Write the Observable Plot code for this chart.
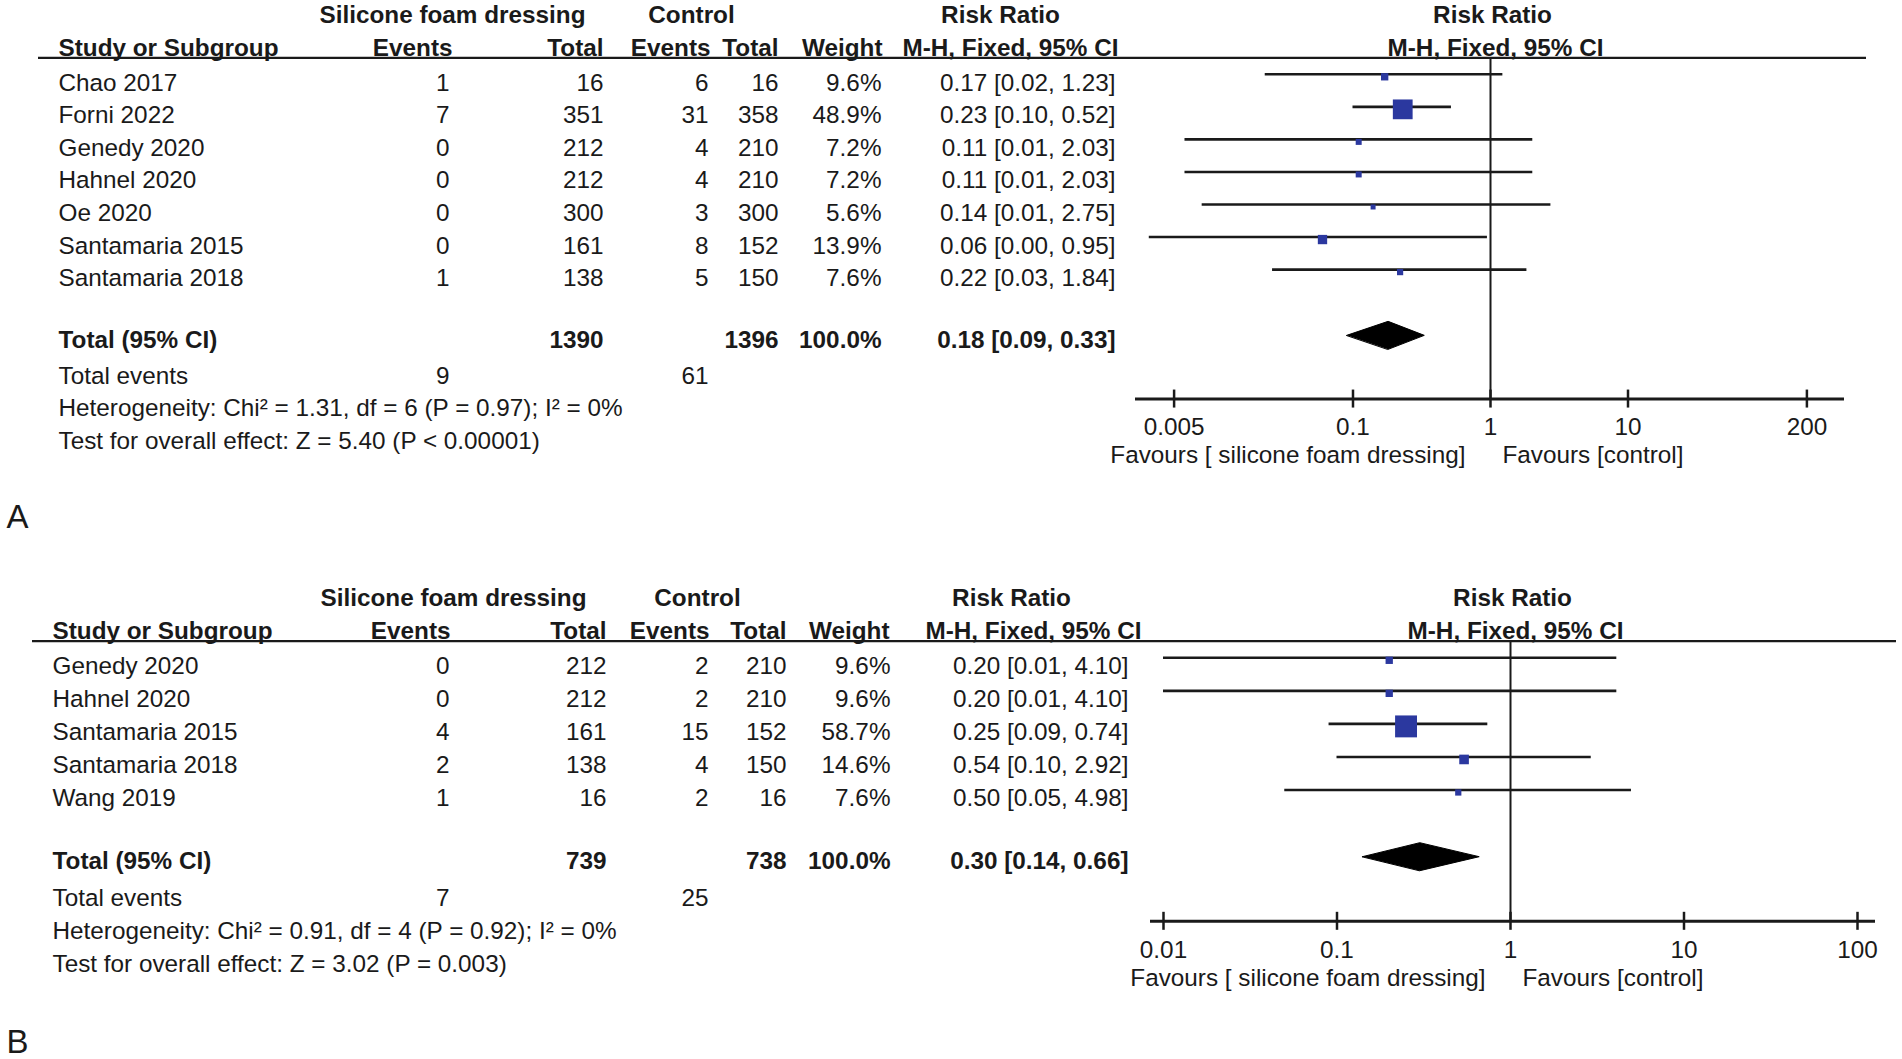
<!DOCTYPE html>
<html><head><meta charset="utf-8">
<script src="https://cdn.jsdelivr.net/npm/d3@7"></script>
<script src="https://cdn.jsdelivr.net/npm/@observablehq/plot@0.6"></script>
<style>
html,body{margin:0;padding:0;background:#fff;overflow:hidden;}
.panel{display:flex;flex-direction:row;width:1902px;}
.panel svg{display:block;flex:none;max-width:none !important;}
</style></head><body><div id="root"></div>
<script>
// ---------- Panel A data ----------
const studiesA   = ["Chao 2017","Forni 2022","Genedy 2020","Hahnel 2020","Oe 2020","Santamaria 2015","Santamaria 2018"];
const silEventsA = [1, 7, 0, 0, 0, 0, 1];
const silTotalA  = [16, 351, 212, 212, 300, 161, 138];
const ctlEventsA = [6, 31, 4, 4, 3, 8, 5];
const ctlTotalA  = [16, 358, 210, 210, 300, 152, 150];
const weightA    = [9.6, 48.9, 7.2, 7.2, 5.6, 13.9, 7.6];
const rrA        = [0.17, 0.23, 0.11, 0.11, 0.14, 0.06, 0.22];
const ciLowA     = [0.023, 0.10, 0.006, 0.006, 0.008, 0.0033, 0.026];
const ciHighA    = [1.23, 0.52, 2.03, 2.03, 2.75, 0.95, 1.84];
const totalsA    = [1390, 1396, 100.0];   // silicone total, control total, weight
const eventsA    = [9, 61];               // total events
const pooledA    = [0.18, 0.09, 0.33];    // RR, low, high
const hetA       = "Heterogeneity: Chi\u00b2 = 1.31, df = 6 (P = 0.97); I\u00b2 = 0%";
const testA      = "Test for overall effect: Z = 5.40 (P < 0.00001)";
const ticksA     = [0.005, 0.1, 1, 10, 200];

// ---------- Panel B data ----------
const studiesB   = ["Genedy 2020","Hahnel 2020","Santamaria 2015","Santamaria 2018","Wang 2019"];
const silEventsB = [0, 0, 4, 2, 1];
const silTotalB  = [212, 212, 161, 138, 16];
const ctlEventsB = [2, 2, 15, 4, 2];
const ctlTotalB  = [210, 210, 152, 150, 16];
const weightB    = [9.6, 9.6, 58.7, 14.6, 7.6];
const rrB        = [0.20, 0.20, 0.25, 0.54, 0.50];
const ciLowB     = [0.01, 0.01, 0.09, 0.10, 0.05];
const ciHighB    = [4.10, 4.10, 0.74, 2.92, 4.98];
const totalsB    = [739, 738, 100.0];
const eventsB    = [7, 25];
const pooledB    = [0.30, 0.14, 0.66];
const hetB       = "Heterogeneity: Chi\u00b2 = 0.91, df = 4 (P = 0.92); I\u00b2 = 0%";
const testB      = "Test for overall effect: Z = 3.02 (P = 0.003)";
const ticksB     = [0.01, 0.1, 1, 10, 100];

// ---------- layout (styles / positions, not data) ----------
const FONT = "Liberation Sans, Arial, Helvetica, sans-serif";
const INK = "#1a1a1a";
const BLUE = "#2b389f";
const FS = 24.3;
const TABLE_W = 1130, FOREST_W = 772;

const layoutA = {
  label: "A", height: 540, top: 82.5, unit: 32.55,
  cols: {name: 58, sEv: 449, sTot: 603, cEv: 708, cTot: 778, w: 881, ci: 1115},
  head1: {sil: 452, ctl: 691, rr: 1000},
  head2: {sEv: 452, sTot: 603, cEv: 710, cTot: 778, w: 882, ci: 1118},
  lineLeft: 38, lineRightInset: 36,
  xDomain: [0.005, 200], xRange: [43.6, 676.4],
  axisInsetLeft: 5, axisInsetRight: 58
};
const layoutB = {
  label: "B", height: 519, top: 126, unit: 33.05,
  cols: {name: 52, sEv: 449, sTot: 606, cEv: 708, cTot: 786, w: 890, ci: 1128},
  head1: {sil: 453, ctl: 697, rr: 1011},
  head2: {sEv: 450, sTot: 606, cEv: 709, cTot: 786, w: 889, ci: 1141},
  lineLeft: 32, lineRightInset: 6,
  xDomain: [0.01, 100], xRange: [33, 727],
  axisInsetLeft: 20, axisInsetRight: 27
};

const f2 = v => v.toFixed(2);
const ciText = (r, l, h) => `${f2(r)} [${f2(l)}, ${f2(h)}]`;
const side = w => 3.2 * Math.sqrt(w) - 2.6;

function panel(d, L) {
  const n = d.names.length;
  const rows = d.names.map((name, i) => ({
    i, name, sEv: d.sEv[i], sTot: d.sTot[i], cEv: d.cEv[i], cTot: d.cTot[i],
    w: d.w[i], rr: d.rr[i], lo: d.lo[i], hi: d.hi[i]
  }));
  const R = {
    h1: -2.07, h2: -1.06, line: -0.77,
    total: n + 0.9, events: n + 2, het: n + 3, test: n + 4,
    axis: n + 2.71, ticks: n + 3.57, fav: n + 4.43, label: n + 6.36
  };
  const y = {domain: [-L.top / L.unit, (L.height - L.top) / L.unit], range: [0, L.height], axis: null};
  const C = L.cols;
  const T = (data, opts) => Plot.text(data, {fill: INK, fontSize: FS, ...opts});

  const table = Plot.plot({
    width: TABLE_W, height: L.height, margin: 0,
    style: {fontFamily: FONT, background: "transparent", overflow: "visible"},
    x: {domain: [0, TABLE_W], range: [0, TABLE_W], axis: null},
    y,
    marks: [
      // header row 1
      T(["Silicone foam dressing"], {x: () => L.head1.sil, y: () => R.h1, text: t => t, fontWeight: "bold"}),
      T(["Control"], {x: () => L.head1.ctl, y: () => R.h1, text: t => t, fontWeight: "bold"}),
      T(["Risk Ratio"], {x: () => L.head1.rr, y: () => R.h1, text: t => t, fontWeight: "bold"}),
      // header row 2
      T(["Study or Subgroup"], {x: () => C.name, y: () => R.h2, text: t => t, fontWeight: "bold", textAnchor: "start"}),
      T([["Events", L.head2.sEv], ["Total", L.head2.sTot], ["Events", L.head2.cEv], ["Total", L.head2.cTot], ["Weight", L.head2.w], ["M-H, Fixed, 95% CI", L.head2.ci]],
        {x: t => t[1], y: () => R.h2, text: t => t[0], fontWeight: "bold", textAnchor: "end"}),
      Plot.ruleY([R.line], {stroke: INK, strokeWidth: 2.2, insetLeft: L.lineLeft}),
      // study rows
      T(rows, {x: () => C.name, y: "i", text: "name", textAnchor: "start"}),
      T(rows, {x: () => C.sEv, y: "i", text: r => String(r.sEv), textAnchor: "end"}),
      T(rows, {x: () => C.sTot, y: "i", text: r => String(r.sTot), textAnchor: "end"}),
      T(rows, {x: () => C.cEv, y: "i", text: r => String(r.cEv), textAnchor: "end"}),
      T(rows, {x: () => C.cTot, y: "i", text: r => String(r.cTot), textAnchor: "end"}),
      T(rows, {x: () => C.w, y: "i", text: r => r.w.toFixed(1) + "%", textAnchor: "end"}),
      T(rows, {x: () => C.ci, y: "i", text: r => ciText(r.rr, r.lo, r.hi), textAnchor: "end"}),
      // total row
      T(["Total (95% CI)"], {x: () => C.name, y: () => R.total, text: t => t, fontWeight: "bold", textAnchor: "start"}),
      T([d.totals[0]], {x: () => C.sTot, y: () => R.total, text: t => String(t), fontWeight: "bold", textAnchor: "end"}),
      T([d.totals[1]], {x: () => C.cTot, y: () => R.total, text: t => String(t), fontWeight: "bold", textAnchor: "end"}),
      T([d.totals[2]], {x: () => C.w, y: () => R.total, text: t => t.toFixed(1) + "%", fontWeight: "bold", textAnchor: "end"}),
      T([d.pooled], {x: () => C.ci, y: () => R.total, text: p => ciText(p[0], p[1], p[2]), fontWeight: "bold", textAnchor: "end"}),
      // total events
      T(["Total events"], {x: () => C.name, y: () => R.events, text: t => t, textAnchor: "start"}),
      T([d.events[0]], {x: () => C.sEv, y: () => R.events, text: t => String(t), textAnchor: "end"}),
      T([d.events[1]], {x: () => C.cEv, y: () => R.events, text: t => String(t), textAnchor: "end"}),
      T([d.het], {x: () => C.name, y: () => R.het, text: t => t, textAnchor: "start"}),
      T([d.test], {x: () => C.name, y: () => R.test, text: t => t, textAnchor: "start"}),
      // panel letter
      T([L.label], {x: () => 6, y: () => R.label, text: t => t, textAnchor: "start", fontSize: 33})
    ]
  });

  const diamondH = 14 / L.unit;
  const [pe, pl, ph] = d.pooled;
  const diamond = [
    {x: pl, y: R.total}, {x: pe, y: R.total - diamondH},
    {x: ph, y: R.total}, {x: pe, y: R.total + diamondH}
  ];

  const forest = Plot.plot({
    width: FOREST_W, height: L.height, margin: 0,
    style: {fontFamily: FONT, background: "transparent", overflow: "visible"},
    x: {type: "log", domain: L.xDomain, range: L.xRange, axis: null},
    y,
    r: {type: "identity"},
    marks: [
      T(["Risk Ratio"], {x: () => 1, y: () => R.h1, text: t => t, fontWeight: "bold", dx: 2}),
      T(["M-H, Fixed, 95% CI"], {x: () => 1, y: () => R.h2, text: t => t, fontWeight: "bold", dx: 5}),
      Plot.ruleY([R.line], {stroke: INK, strokeWidth: 2.2, insetRight: L.lineRightInset}),
      Plot.ruleX([1], {y1: R.line, y2: R.axis, stroke: INK, strokeWidth: 2}),
      Plot.ruleY(rows, {y: "i", x1: "lo", x2: "hi", stroke: INK, strokeWidth: 2.6, dy: -8.7}),
      Plot.dot(rows, {x: "rr", y: "i", r: r => side(r.w) / Math.sqrt(Math.PI), symbol: "square", fill: BLUE, stroke: "none", dy: -6.2}),
      Plot.line(diamond, {x: "x", y: "y", fill: "black", stroke: "black", strokeWidth: 1, curve: "linear-closed", dy: -4.8}),
      Plot.ruleY([R.axis], {stroke: INK, strokeWidth: 3, insetLeft: L.axisInsetLeft, insetRight: L.axisInsetRight}),
      Plot.ruleX(d.ticks, {x: t => t, y1: R.axis, y2: R.axis, insetTop: -9, insetBottom: -9, stroke: INK, strokeWidth: 2.5}),
      T(d.ticks, {x: t => t, y: () => R.ticks, text: t => String(t)}),
      T(["Favours [ silicone foam dressing]"], {x: () => 1, y: () => R.fav, text: t => t, textAnchor: "end", dx: -25}),
      T(["Favours [control]"], {x: () => 1, y: () => R.fav, text: t => t, textAnchor: "start", dx: 12})
    ]
  });

  const div = document.createElement("div");
  div.className = "panel";
  div.append(table, forest);
  return div;
}

const root = document.getElementById("root");
root.append(
  panel({names: studiesA, sEv: silEventsA, sTot: silTotalA, cEv: ctlEventsA, cTot: ctlTotalA,
         w: weightA, rr: rrA, lo: ciLowA, hi: ciHighA, totals: totalsA, events: eventsA,
         pooled: pooledA, het: hetA, test: testA, ticks: ticksA}, layoutA),
  panel({names: studiesB, sEv: silEventsB, sTot: silTotalB, cEv: ctlEventsB, cTot: ctlTotalB,
         w: weightB, rr: rrB, lo: ciLowB, hi: ciHighB, totals: totalsB, events: eventsB,
         pooled: pooledB, het: hetB, test: testB, ticks: ticksB}, layoutB)
);
</script></body></html>
